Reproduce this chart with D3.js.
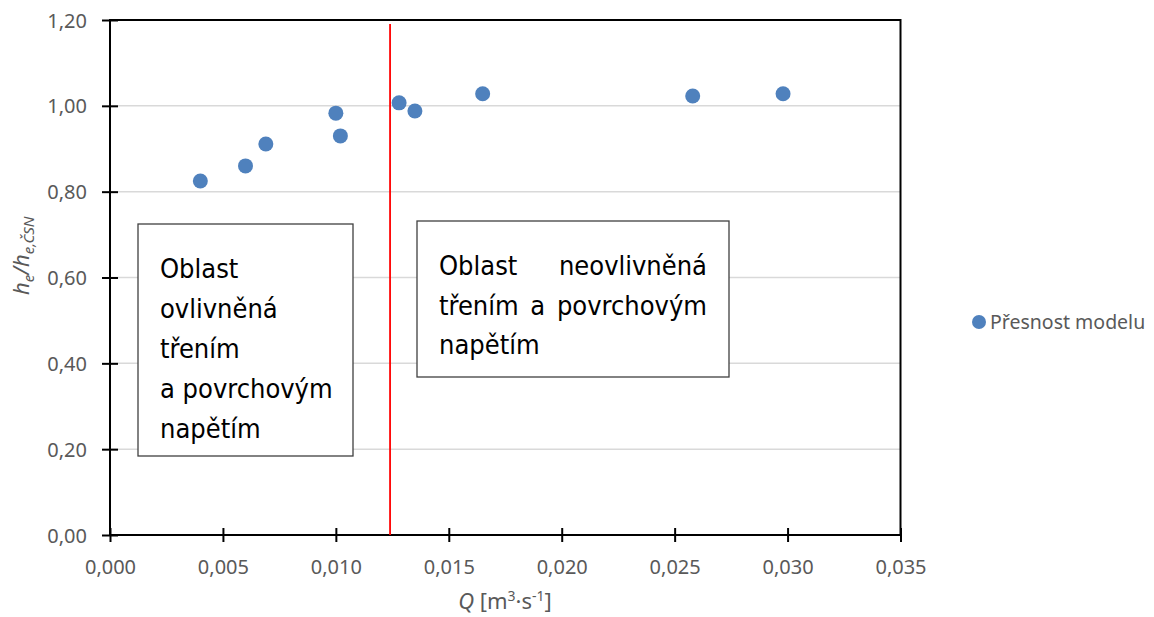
<!DOCTYPE html>
<html>
<head>
<meta charset="utf-8">
<script src="https://cdn.jsdelivr.net/npm/d3@7"></script>
<style>
  body { margin: 0; background: #fff; }
  svg { display: block; }
</style>
</head>
<body>
<svg id="chart" width="1154" height="617"></svg>
<script>
// data
var flowQ = [0.0040, 0.0060, 0.0069, 0.0100, 0.0102, 0.0128, 0.0135, 0.0165, 0.0258, 0.0298];
var ratio = [0.825, 0.860, 0.911, 0.983, 0.930, 1.007, 0.988, 1.028, 1.023, 1.028];
var xTicks = [0, 0.005, 0.010, 0.015, 0.020, 0.025, 0.030, 0.035];
var yTicks = [0, 0.2, 0.4, 0.6, 0.8, 1.0, 1.2];
var boundaryQ = 0.0124;
var seriesName = "Přesnost modelu";
var leftBoxLines = ["Oblast", "ovlivněná", "třením", "a povrchovým", "napětím"];
var rightBoxLines = ["Oblast neovlivněná", "třením a povrchovým", "napětím"];

var svg = d3.select("#chart");
var plotL = 110, plotR = 900.5, plotT = 20, plotB = 535;

var x = d3.scaleLinear().domain([0, 0.035]).range([plotL, plotR]);
var y = d3.scaleLinear().domain([0, 1.2]).range([plotB, plotT]);

var fmt = function (d, n) { return d.toFixed(n).replace(".", ","); };
var labelFont = "'Noto Sans', sans-serif";

//gridlines
svg.append("g")
	.selectAll("line")
	.data(yTicks.filter(function (d) { return d > 0 && d < 1.2; }))
	.enter()
	.append("line")
	.attr("x1", plotL).attr("x2", plotR)
	.attr("y1", function (d) { return y(d); })
	.attr("y2", function (d) { return y(d); })
	.attr("stroke", "#d9d9d9")
	.attr("stroke-width", 1.5);

//frame
svg.append("rect")
	.attr("x", plotL).attr("y", plotT)
	.attr("width", plotR - plotL).attr("height", plotB - plotT)
	.attr("fill", "none")
	.attr("stroke", "#000")
	.attr("stroke-width", 2);

//axes with cross ticks
var yAxis = svg.append("g")
	.attr("transform", "translate(" + plotL + ",0)")
	.call(d3.axisLeft(y).tickValues(yTicks).tickSize(8).tickFormat(function (d) { return fmt(d, 2); }));
yAxis.select(".domain").remove();
yAxis.selectAll(".tick line").attr("x2", 8).attr("x1", -8).attr("stroke", "#000").attr("stroke-width", 2);
yAxis.selectAll(".tick text")
	.attr("x", -23)
	.attr("dy", "0.35em")
	.attr("fill", "#595959")
	.style("font-family", labelFont)
	.style("font-size", "20px");

var xAxis = svg.append("g")
	.attr("transform", "translate(0," + plotB + ")")
	.call(d3.axisBottom(x).tickValues(xTicks).tickSize(7).tickFormat(function (d) { return fmt(d, 3); }));
xAxis.select(".domain").remove();
xAxis.selectAll(".tick line").attr("y1", -7).attr("y2", 7).attr("stroke", "#000").attr("stroke-width", 2);
xAxis.selectAll(".tick text")
	.attr("y", 39)
	.attr("dy", 0)
	.attr("fill", "#595959")
	.style("font-family", labelFont)
	.style("font-size", "20px");

//red boundary line
svg.append("line")
	.attr("x1", x(boundaryQ)).attr("x2", x(boundaryQ))
	.attr("y1", plotT + 4).attr("y2", plotB)
	.attr("stroke", "#ff0000")
	.attr("stroke-width", 1.8);

//text boxes
var boxFont = "'DejaVu Sans Condensed', 'DejaVu Sans', sans-serif";
var boxSize = "27px";
function drawBox(bx, by, bw, bh, lines, tx, ty, tw, lh, justify) {
	var g = svg.append("g");
	g.append("rect")
		.attr("x", bx).attr("y", by).attr("width", bw).attr("height", bh)
		.attr("fill", "#fff").attr("stroke", "#404040").attr("stroke-width", 1.3);
	lines.forEach(function (line, i) {
		var words = line.split(" ");
		var last = i == lines.length - 1;
		if (!justify || last || words.length < 2) {
			g.append("text").attr("x", tx).attr("y", ty + i * lh).text(line)
				.style("font-family", boxFont).style("font-size", boxSize).attr("fill", "#000");
			return;
		}
		//justify words across the line width
		var nodes = words.map(function (w) {
			return g.append("text").attr("y", ty + i * lh).text(w)
				.style("font-family", boxFont).style("font-size", boxSize).attr("fill", "#000");
		});
		var widths = nodes.map(function (n) { return n.node().getComputedTextLength(); });
		var gap = (tw - d3.sum(widths)) / (words.length - 1);
		var cx = tx;
		nodes.forEach(function (n, k) {
			n.attr("x", cx);
			cx += widths[k] + gap;
		});
	});
}
drawBox(138, 224, 215, 232, leftBoxLines, 160, 278, 0, 40, false);
drawBox(417, 221, 312, 156, rightBoxLines, 439, 275, 268, 39.5, true);

//points
svg.append("g")
	.selectAll("circle")
	.data(flowQ)
	.enter()
	.append("circle")
	.attr("cx", function (d) { return x(d); })
	.attr("cy", function (d, i) { return y(ratio[i]); })
	.attr("r", 7.5)
	.attr("fill", "#4f81bd");

//legend
svg.append("circle").attr("cx", 979).attr("cy", 322).attr("r", 7).attr("fill", "#4f81bd");
svg.append("text")
	.attr("x", 990).attr("y", 329)
	.text(seriesName)
	.attr("fill", "#595959")
	.style("font-family", labelFont)
	.style("font-size", "19.5px");

//axis titles
var yTitle = svg.append("text")
	.attr("transform", "translate(29,295) rotate(-90)")
	.attr("fill", "#595959")
	.style("font-family", labelFont)
	.style("font-size", "22px")
	.style("font-style", "italic");
yTitle.append("tspan").text("h");
yTitle.append("tspan").text("e").attr("dy", 5).style("font-size", "15px");
yTitle.append("tspan").text("/h").attr("dy", -5);
yTitle.append("tspan").text("e,ČSN").attr("dy", 5).style("font-size", "15px");

var xTitle = svg.append("text")
	.attr("x", 505).attr("y", 609)
	.attr("text-anchor", "middle")
	.attr("fill", "#595959")
	.style("font-family", labelFont)
	.style("font-size", "22px");
xTitle.append("tspan").text("Q").style("font-style", "italic");
xTitle.append("tspan").text(" [m");
xTitle.append("tspan").text("3").attr("dy", -8).style("font-size", "14px");
xTitle.append("tspan").text("·s").attr("dy", 8);
xTitle.append("tspan").text("-1").attr("dy", -8).style("font-size", "14px");
xTitle.append("tspan").text("]").attr("dy", 8);
</script>
</body>
</html>
